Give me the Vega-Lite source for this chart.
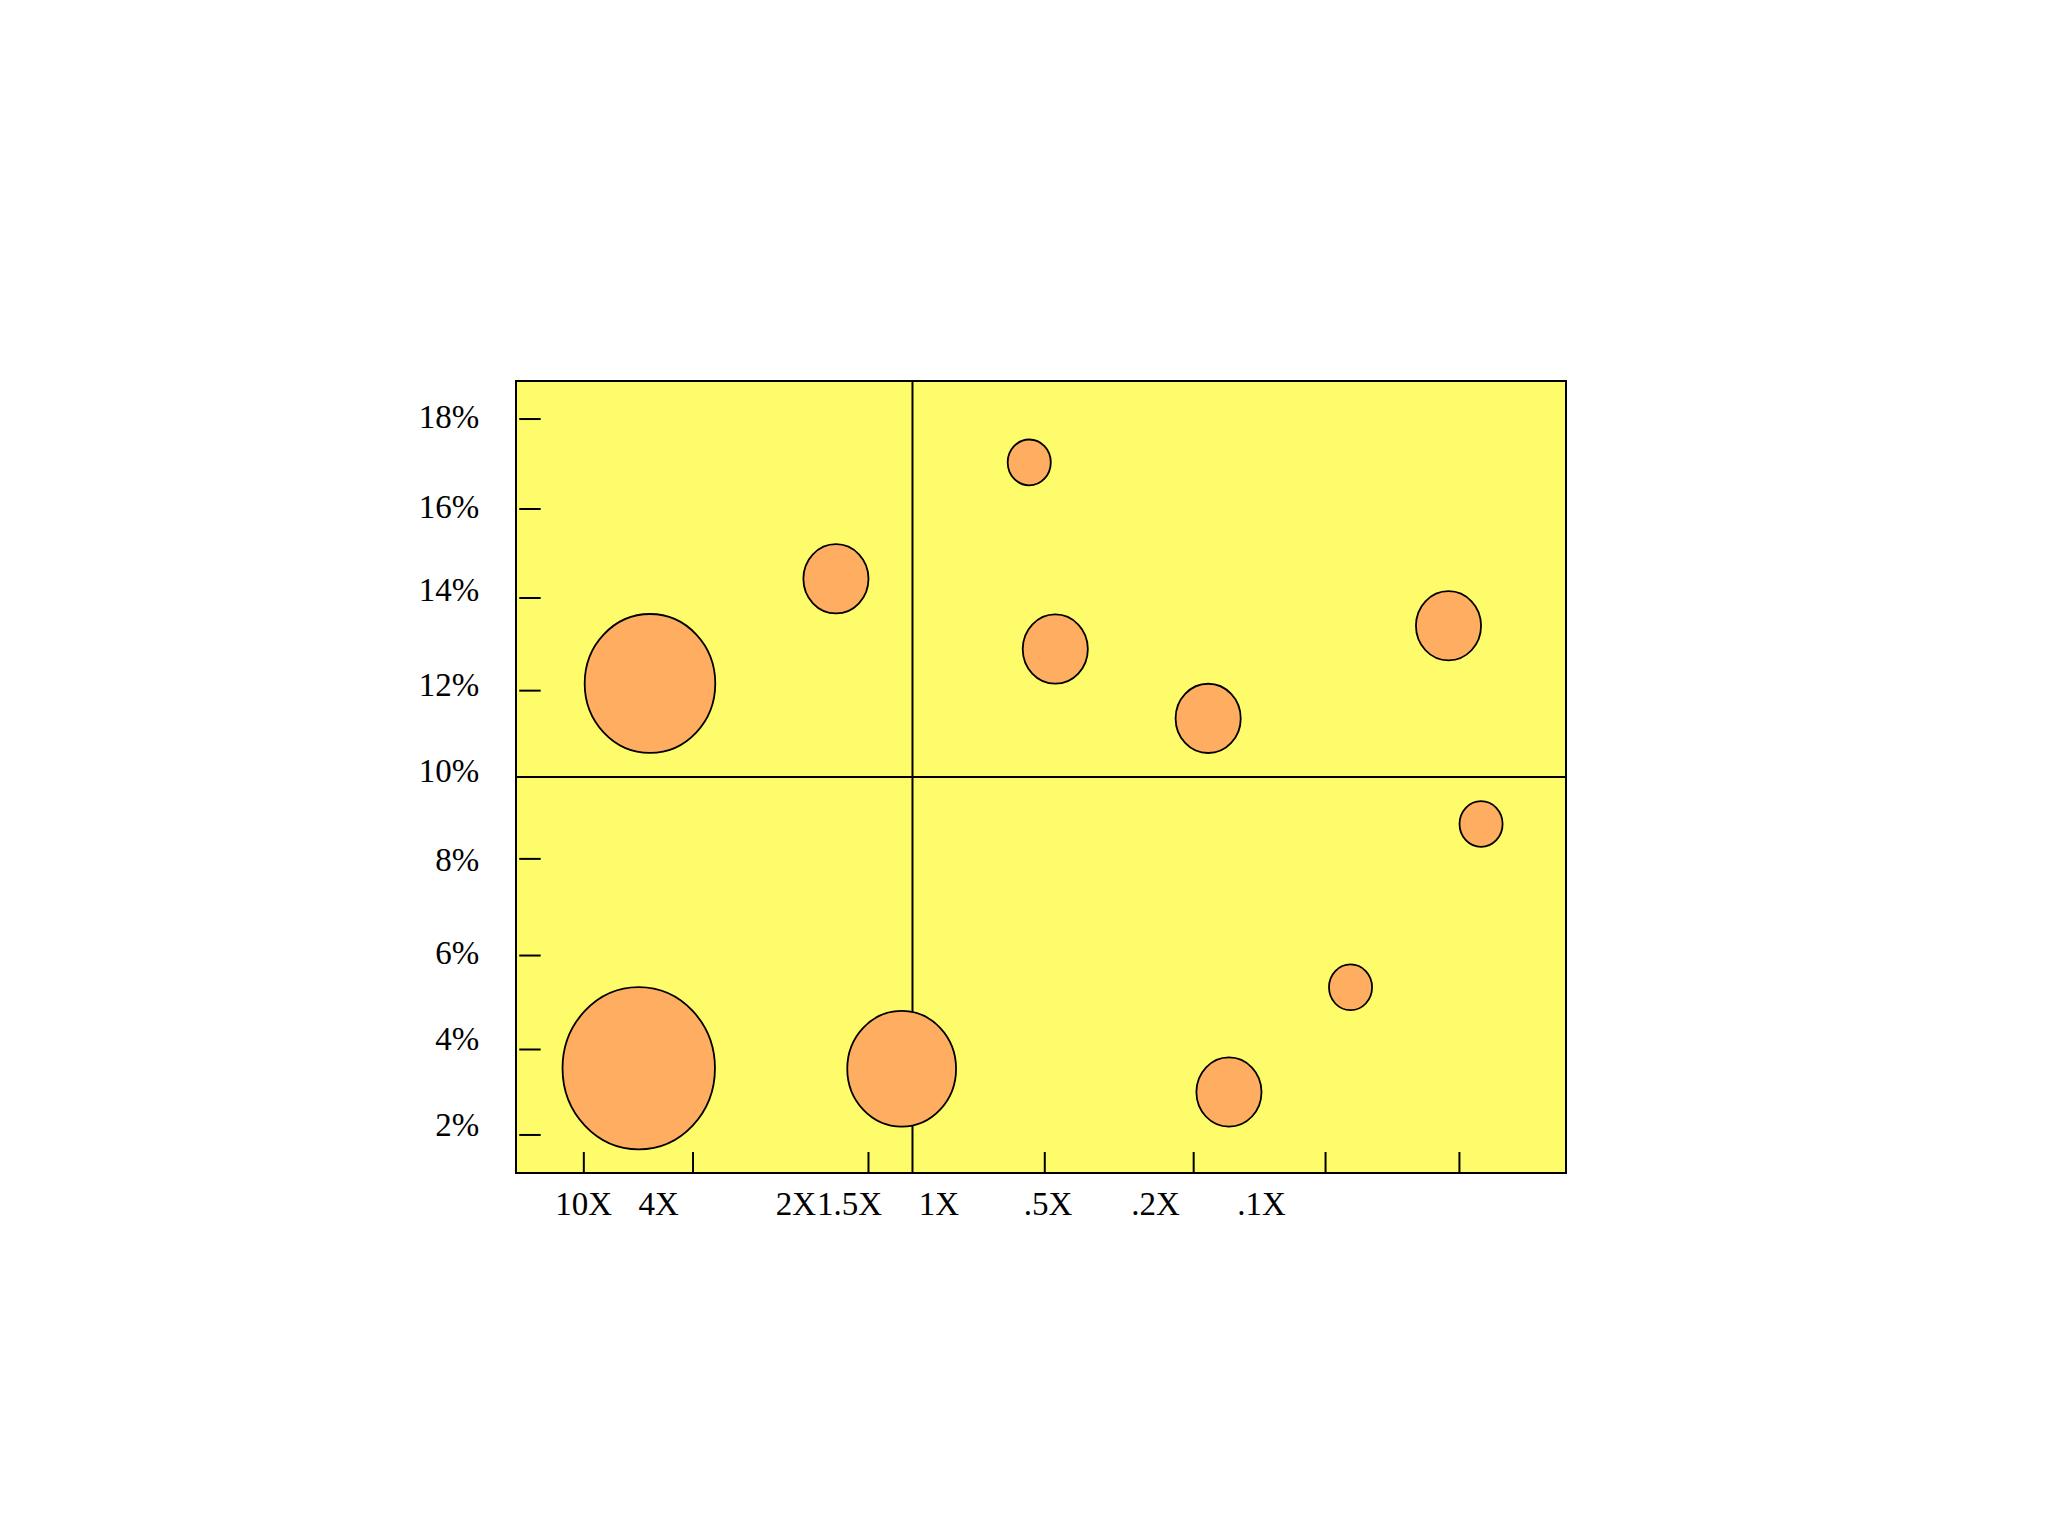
{
  "$schema": "https://vega.github.io/schema/vega-lite/v6.json",
  "autosize": {"type": "none"},
  "width": 1050,
  "height": 792,
  "padding": {"left": 516, "top": 381, "right": 482, "bottom": 363},
  "background": "#ffffff",
  "config": {
    "view": {"fill": "#FEFC6A", "stroke": "#000000", "strokeWidth": 2},
    "font": "Liberation Serif"
  },
  "datasets": {
    "bubbles": [
      {"pos": 11.69, "pct": 3.49, "value": 26.3},
      {"pos": 36.73, "pct": 3.48, "value": 13.4},
      {"pos": 12.76, "pct": 12.09, "value": 19.3},
      {"pos": 30.47, "pct": 14.43, "value": 4.8},
      {"pos": 48.88, "pct": 17.03, "value": 2.1},
      {"pos": 51.36, "pct": 12.86, "value": 4.8},
      {"pos": 65.92, "pct": 11.31, "value": 4.8},
      {"pos": 88.81, "pct": 13.38, "value": 4.8},
      {"pos": 91.91, "pct": 8.95, "value": 2.1},
      {"pos": 79.48, "pct": 5.30, "value": 2.1},
      {"pos": 67.90, "pct": 2.96, "value": 4.8}
    ],
    "xticks": [
      {"pos": 6.46}, {"pos": 16.86}, {"pos": 33.57}, {"pos": 50.36},
      {"pos": 64.54}, {"pos": 77.10}, {"pos": 89.85}
    ],
    "yticks": [
      {"pct": 18.0}, {"pct": 15.99}, {"pct": 14.0}, {"pct": 11.93},
      {"pct": 8.17}, {"pct": 6.01}, {"pct": 3.91}, {"pct": 2.0}
    ],
    "xlabels": [
      {"pos": 6.45, "label": "10X"},
      {"pos": 13.59, "label": "4X"},
      {"pos": 26.67, "label": "2X"},
      {"pos": 31.76, "label": "1.5X"},
      {"pos": 40.27, "label": "1X"},
      {"pos": 50.67, "label": ".5X"},
      {"pos": 60.91, "label": ".2X"},
      {"pos": 71.0, "label": ".1X"}
    ],
    "ylabels": [
      {"pct": 17.80, "label": "18%"},
      {"pct": 15.79, "label": "16%"},
      {"pct": 13.93, "label": "14%"},
      {"pct": 11.82, "label": "12%"},
      {"pct": 9.89, "label": "10%"},
      {"pct": 7.90, "label": "8%"},
      {"pct": 5.82, "label": "6%"},
      {"pct": 3.89, "label": "4%"},
      {"pct": 1.97, "label": "2%"}
    ],
    "vdiv": [{"pos": 37.76}],
    "hdiv": [{"pct": 10}]
  },
  "layer": [
    {
      "data": {"name": "vdiv"},
      "mark": {"type": "rule", "color": "#000000", "strokeWidth": 2},
      "encoding": {
        "x": {"field": "pos", "type": "quantitative", "scale": {"domain": [0, 100], "nice": false, "zero": false}, "axis": null}
      }
    },
    {
      "data": {"name": "hdiv"},
      "mark": {"type": "rule", "color": "#000000", "strokeWidth": 2},
      "encoding": {
        "y": {"field": "pct", "type": "quantitative", "scale": {"domain": [1.15, 18.85], "nice": false, "zero": false}, "axis": null}
      }
    },
    {
      "data": {"name": "xticks"},
      "mark": {"type": "rule", "color": "#000000", "strokeWidth": 2},
      "encoding": {
        "x": {"field": "pos", "type": "quantitative"},
        "y": {"datum": 1.15},
        "y2": {"datum": 1.62}
      }
    },
    {
      "data": {"name": "yticks"},
      "mark": {"type": "rule", "color": "#000000", "strokeWidth": 2},
      "encoding": {
        "y": {"field": "pct", "type": "quantitative"},
        "x": {"datum": 0.31},
        "x2": {"datum": 2.35}
      }
    },
    {
      "data": {"name": "bubbles"},
      "mark": {
        "type": "point",
        "filled": true,
        "fill": "#FFAD60",
        "fillOpacity": 1,
        "stroke": "#000000",
        "strokeWidth": 1.8,
        "shape": "M -0.94 0 A 0.94 1 0 1 0 0.94 0 A 0.94 1 0 1 0 -0.94 0 Z"
      },
      "encoding": {
        "x": {"field": "pos", "type": "quantitative"},
        "y": {"field": "pct", "type": "quantitative"},
        "size": {"field": "value", "type": "quantitative", "scale": {"type": "linear", "domain": [0, 30], "range": [0, 30000], "zero": true}, "legend": null}
      }
    },
    {
      "data": {"name": "xlabels"},
      "mark": {"type": "text", "font": "Liberation Serif", "fontSize": 33, "align": "center", "baseline": "alphabetic", "color": "#000000"},
      "encoding": {
        "x": {"field": "pos", "type": "quantitative"},
        "y": {"datum": 0.21},
        "text": {"field": "label"}
      }
    },
    {
      "data": {"name": "ylabels"},
      "mark": {"type": "text", "font": "Liberation Serif", "fontSize": 33, "align": "right", "baseline": "alphabetic", "color": "#000000"},
      "encoding": {
        "y": {"field": "pct", "type": "quantitative"},
        "x": {"datum": -3.5},
        "text": {"field": "label"}
      }
    }
  ]
}
